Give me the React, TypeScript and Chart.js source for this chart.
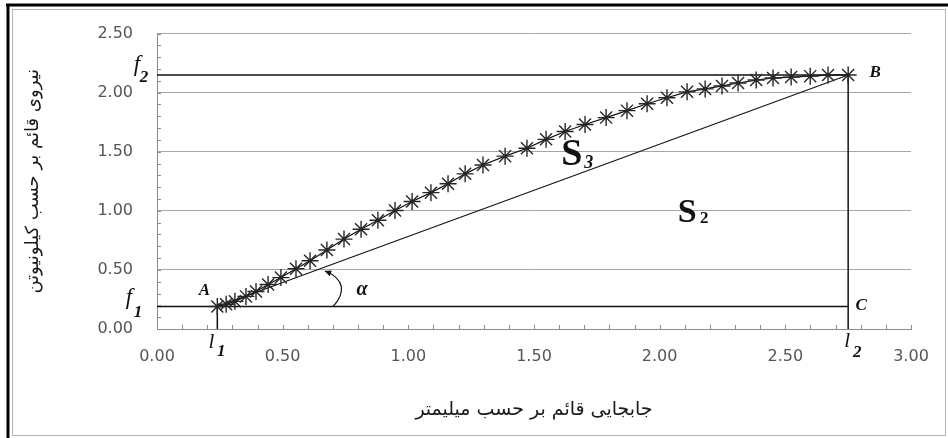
import React, { useEffect, useRef } from 'react';
import { Chart, registerables } from 'chart.js';

Chart.register(...registerables);

// ---- data ----
const curveX = [0.24, 0.275, 0.31, 0.354, 0.394, 0.442, 0.493, 0.553, 0.609, 0.676, 0.744, 0.812, 0.879, 0.947, 1.015, 1.09, 1.158, 1.226, 1.297, 1.385, 1.472, 1.548, 1.624, 1.703, 1.787, 1.87, 1.95, 2.029, 2.109, 2.181, 2.248, 2.312, 2.384, 2.451, 2.523, 2.599, 2.67, 2.75];
const curveY = [0.19, 0.209, 0.234, 0.276, 0.318, 0.376, 0.435, 0.51, 0.577, 0.669, 0.761, 0.844, 0.92, 1.003, 1.079, 1.154, 1.229, 1.313, 1.388, 1.463, 1.53, 1.605, 1.672, 1.731, 1.789, 1.848, 1.906, 1.957, 2.007, 2.032, 2.057, 2.082, 2.107, 2.124, 2.132, 2.14, 2.149, 2.15];

const l1 = 0.24;
const l2 = 2.75;
const f1 = 0.19;
const f2 = 2.15;

const xMin = 0, xMax = 3, xStep = 0.5;
const yMin = 0, yMax = 2.5, yStep = 0.5;
const minorStep = 0.1;
const xTickLabels = ['0.00', '0.50', '1.00', '1.50', '2.00', '2.50', '3.00'];
const yTickLabels = ['0.00', '0.50', '1.00', '1.50', '2.00', '2.50'];

const xTitle = 'جابجایی قائم بر حسب میلیمتر';
const yTitle = 'نیروی قائم بر حسب کیلونیوتن';

const pointNames = ['A', 'B', 'C'];
const areaNames = ['S', '3', 'S', '2'];
const areaS3 = [1.65, 1.47];
const areaS2 = [2.11, 0.98];
const alphaLabel = 'α';
const alphaPos = [0.816, 0.334];
const arrowFromX = 0.70;
const arrowToX = 0.668;

const SERIF = '"Liberation Serif", "DejaVu Serif", serif';

const framePlugin = {
  id: 'frame',
  beforeDraw(chart: any) {
    const { ctx, width, height } = chart;
    ctx.save();
    ctx.fillStyle = '#ffffff';
    ctx.fillRect(0, 0, width, height);
    ctx.strokeStyle = '#b4b4b4';
    ctx.lineWidth = 1;
    ctx.strokeRect(12.5, 9.5, width - 15, height - 12);
    ctx.strokeStyle = '#000000';
    ctx.lineWidth = 3;
    ctx.beginPath();
    ctx.moveTo(6, 5);
    ctx.lineTo(width, 5);
    ctx.moveTo(8, 4);
    ctx.lineTo(8, height);
    ctx.stroke();
    ctx.restore();
  },
};

const annotPlugin = {
  id: 'annot',
  afterDraw(chart: any) {
    const { ctx, chartArea } = chart;
    const xs = chart.scales.x;
    const ys = chart.scales.y;
    const px = (v: number) => xs.getPixelForValue(v);
    const py = (v: number) => ys.getPixelForValue(v);
    ctx.save();
    // minor tick marks (inside)
    ctx.strokeStyle = '#8c8c8c';
    ctx.lineWidth = 1;
    const nx = Math.round((xMax - xMin) / minorStep);
    for (let i = 0; i <= nx; i++) {
      const X = Math.round(px(xMin + i * minorStep)) + 0.5;
      ctx.beginPath();
      ctx.moveTo(X, chartArea.bottom);
      ctx.lineTo(X, chartArea.bottom - 4);
      ctx.stroke();
    }
    const ny = Math.round((yMax - yMin) / minorStep);
    for (let i = 0; i <= ny; i++) {
      const Y = Math.round(py(yMin + i * minorStep)) + 0.5;
      ctx.beginPath();
      ctx.moveTo(chartArea.left, Y);
      ctx.lineTo(chartArea.left + 4, Y);
      ctx.stroke();
    }

    ctx.fillStyle = '#111111';
    ctx.textAlign = 'center';
    ctx.textBaseline = 'middle';
    const t = (s: string, X: number, Y: number, font: string) => {
      ctx.font = font;
      ctx.fillText(s, X, Y);
    };
    const letterFont = `bold italic 17px ${SERIF}`;
    const fFont = `italic 23px ${SERIF}`;
    const subFont = `bold italic 17px ${SERIF}`;
    // point names
    t(pointNames[0], px(l1) - 13, py(f1) - 16, letterFont);
    t(pointNames[1], px(l2) + 27, py(f2) - 2, letterFont);
    t(pointNames[2], px(l2) + 13, py(f1) - 1, letterFont);
    // f2, f1
    t('f', px(0) - 20, py(f2) - 10, fFont);
    t('2', px(0) - 13, py(f2) + 3, subFont);
    t('f', px(0) - 28, py(f1) - 9, fFont);
    t('1', px(0) - 19, py(f1) + 6, subFont);
    // l1, l2
    t('l', px(l1) - 6, py(0) + 13, `italic 21px ${SERIF}`);
    t('1', px(l1) + 4, py(0) + 23, subFont);
    t('l', px(l2) - 1, py(0) + 12, `italic 21px ${SERIF}`);
    t('2', px(l2) + 9, py(0) + 24, subFont);
    // areas
    t(areaNames[0], px(areaS3[0]), py(areaS3[1]), `bold 38px ${SERIF}`);
    t(areaNames[1], px(areaS3[0]) + 17, py(areaS3[1]) + 8, `bold italic 18px ${SERIF}`);
    t(areaNames[2], px(areaS2[0]), py(areaS2[1]), `bold 34px ${SERIF}`);
    t(areaNames[3], px(areaS2[0]) + 17, py(areaS2[1]) + 5, `bold 17px ${SERIF}`);
    // alpha
    t(alphaLabel, px(alphaPos[0]), py(alphaPos[1]), `bold italic 20px ${SERIF}`);
    // curved arrow from f1 line to chord
    const sx = px(arrowFromX);
    const sy = py(f1);
    const chordY = f1 + ((f2 - f1) * (arrowToX - l1)) / (l2 - l1);
    const ex = px(arrowToX);
    const ey = py(chordY) + 4;
    const c1x = sx + 13, c1y = sy - 14;
    const c2x = sx + 12, c2y = ey + 8;
    ctx.strokeStyle = '#111111';
    ctx.lineWidth = 1.2;
    ctx.beginPath();
    ctx.moveTo(sx, sy);
    ctx.bezierCurveTo(c1x, c1y, c2x, c2y, ex, ey);
    ctx.stroke();
    const ang = Math.atan2(ey - c2y, ex - c2x);
    const L = 7;
    ctx.beginPath();
    ctx.moveTo(ex, ey);
    ctx.lineTo(ex - L * Math.cos(ang - 0.45), ey - L * Math.sin(ang - 0.45));
    ctx.lineTo(ex - L * Math.cos(ang + 0.45), ey - L * Math.sin(ang + 0.45));
    ctx.closePath();
    ctx.fillStyle = '#111111';
    ctx.fill();
    ctx.restore();
  },
};

export default function App() {
  const ref = useRef<HTMLCanvasElement | null>(null);

  useEffect(() => {
    if (!ref.current) return;
    const curve = curveX.map((x, i) => ({ x, y: curveY[i] }));
    const lineDs = (data: { x: number; y: number }[], w: number) => ({
      data,
      showLine: true,
      borderColor: '#111111',
      borderWidth: w,
      pointRadius: 0,
      pointHoverRadius: 0,
      fill: false,
    });
    const chart = new Chart(ref.current, {
      type: 'scatter',
      data: {
        datasets: [
          {
            data: curve,
            showLine: true,
            borderColor: '#111111',
            borderWidth: 1.2,
            pointStyle: 'star',
            pointRadius: 8.5,
            pointBorderColor: '#262626',
            pointBorderWidth: 1.4,
            pointBackgroundColor: 'transparent',
            fill: false,
          } as any,
          lineDs([{ x: l1, y: f1 }, { x: l2, y: f2 }], 1.1),
          lineDs([{ x: 0, y: f1 }, { x: l2, y: f1 }], 1.5),
          lineDs([{ x: 0, y: f2 }, { x: l2, y: f2 }], 1.5),
          lineDs([{ x: l1, y: 0 }, { x: l1, y: f1 }], 1.5),
          lineDs([{ x: l2, y: 0 }, { x: l2, y: f2 }], 1.5),
        ],
      },
      options: {
        responsive: false,
        animation: false,
        events: [],
        layout: { padding: { top: 30, right: 37, left: 0, bottom: 0 } },
        plugins: {
          legend: { display: false },
          tooltip: { enabled: false },
          title: { display: false },
        },
        scales: {
          x: {
            type: 'linear',
            min: xMin,
            max: xMax,
            afterFit: (s: any) => { s.height = 109; },
            grid: { display: false, drawTicks: false },
            border: { display: true, color: '#8c8c8c', width: 1 },
            ticks: {
              stepSize: xStep,
              padding: 18,
              color: '#555555',
              font: { family: '"DejaVu Sans", sans-serif', size: 16 },
              callback: (_v: any, i: number) => xTickLabels[i],
              maxRotation: 0,
            },
            title: {
              display: true,
              text: xTitle,
              color: '#1a1a1a',
              font: { family: '"DejaVu Sans", sans-serif', size: 19 },
              padding: { bottom: 17, top: 0 },
            },
          },
          y: {
            type: 'linear',
            min: yMin,
            max: yMax,
            afterFit: (s: any) => { s.width = 157; },
            grid: { display: true, color: '#a6a6a6', lineWidth: 1, drawTicks: false },
            border: { display: true, color: '#8c8c8c', width: 1 },
            ticks: {
              stepSize: yStep,
              padding: 24,
              color: '#555555',
              font: { family: '"DejaVu Sans", sans-serif', size: 16 },
              callback: (_v: any, i: number) => yTickLabels[i],
            },
            title: {
              display: true,
              text: yTitle,
              color: '#1a1a1a',
              font: { family: '"DejaVu Sans", sans-serif', size: 18 },
              padding: { top: 23, bottom: 0 },
            },
          },
        },
      } as any,
      plugins: [framePlugin, annotPlugin],
    });
    return () => chart.destroy();
  }, []);

  return (
    <div style={{ position: 'absolute', left: 0, top: 0, width: 948, height: 438 }}>
      <canvas ref={ref} width={948} height={438} style={{ display: 'block', width: 948, height: 438 }} />
    </div>
  );
}
